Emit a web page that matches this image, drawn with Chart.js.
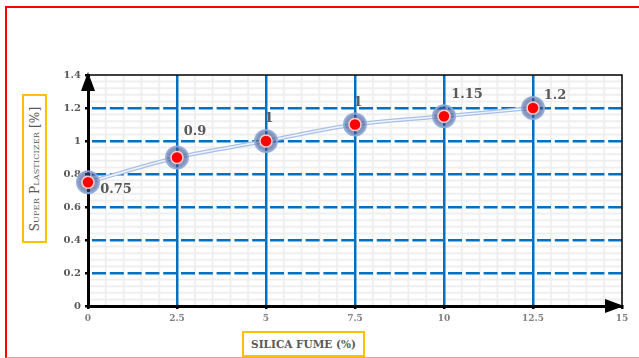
<!DOCTYPE html>
<html>
<head>
<meta charset="utf-8">
<script src="https://cdn.jsdelivr.net/npm/chart.js@4/dist/chart.umd.min.js"></script>
<style>
  body { margin: 0; background: #fff; }
  #wrap { position: relative; width: 639px; height: 358px; overflow: hidden; }
  #frame { position: absolute; left: 5px; top: 6px; width: 700px; height: 349px;
           border-left: 2px solid #ff0000; border-top: 2px solid #ff0000; border-bottom: 1px solid #f39a9a; }
  .ttl { position: absolute; border: 2px solid #ffc000; background: #fff; color: #595959;
         font-family: "DejaVu Serif", serif; box-sizing: border-box; text-align: center; }
  #ytitle { left: 22px; top: 94px; width: 25px; height: 149px; }
  #ytitle span { position: absolute; left: 50%; top: 50%; white-space: nowrap;
                 transform: translate(-50%, -50%) rotate(-90deg);
                 font-variant: small-caps; font-size: 12px; letter-spacing: 0.2px; }
  #xtitle { left: 242px; top: 331px; width: 123px; height: 26px; line-height: 22px;
            font-size: 10.5px; font-weight: bold; }
</style>
</head>
<body>
<div id="wrap">
  <div id="frame"></div>
  <canvas id="myChart" width="639" height="358"></canvas>
  <div class="ttl" id="ytitle"><span>Super Plasticizer [%]</span></div>
  <div class="ttl" id="xtitle">SILICA FUME (%)</div>
</div>
<script>
// data
var silicaFume = [0, 2.5, 5, 7.5, 10, 12.5];
var plasticizer = [0.75, 0.9, 1, 1.1, 1.15, 1.2];
var pointLabels = ["0.75", "0.9", "1", "1", "1.15", "1.2"];

// where each data label sits relative to its point
var labelShift = [[28, 7], [18, -26], [3, -22], [3, -22], [23, -22], [22, -12]];

var pts = silicaFume.map(function(x, i) { return { x: x, y: plasticizer[i] }; });

var blue = '#0070c0';

var minorGrid = {
  id: 'minorGrid',
  beforeDraw: function(chart) {
    var ctx = chart.ctx, a = chart.chartArea;
    var xs = chart.scales.x, ys = chart.scales.y;
    ctx.save();
    ctx.strokeStyle = '#efefef';
    ctx.lineWidth = 2;
    for (var v = 0.04; v < 1.4; v += 0.04) {
      if (Math.abs(v / 0.2 - Math.round(v / 0.2)) < 0.01) continue;
      var py = ys.getPixelForValue(v);
      ctx.beginPath(); ctx.moveTo(a.left, py); ctx.lineTo(a.right, py); ctx.stroke();
    }
    for (var u = 0.5; u < 15; u += 0.5) {
      if (Math.abs(u / 2.5 - Math.round(u / 2.5)) < 0.01) continue;
      var px = xs.getPixelForValue(u);
      ctx.beginPath(); ctx.moveTo(px, a.top); ctx.lineTo(px, a.bottom); ctx.stroke();
    }
    ctx.restore();
  }
};

var frameAndLabels = {
  id: 'frameAndLabels',
  afterDraw: function(chart) {
    var ctx = chart.ctx, a = chart.chartArea;
    ctx.save();
    // thin top/right border
    ctx.strokeStyle = '#000';
    ctx.lineWidth = 1.5;
    ctx.beginPath();
    ctx.moveTo(a.left, a.top); ctx.lineTo(a.right, a.top); ctx.lineTo(a.right, a.bottom);
    ctx.stroke();
    // arrows
    ctx.fillStyle = '#000';
    ctx.beginPath();
    ctx.moveTo(a.left, a.top - 3); ctx.lineTo(a.left - 7, a.top + 16); ctx.lineTo(a.left + 7, a.top + 16);
    ctx.closePath(); ctx.fill();
    ctx.beginPath();
    ctx.moveTo(a.right + 2, a.bottom); ctx.lineTo(a.right - 17, a.bottom - 7); ctx.lineTo(a.right - 17, a.bottom + 7);
    ctx.closePath(); ctx.fill();
    // data labels
    var meta = chart.getDatasetMeta(3);
    ctx.font = 'bold 13px "DejaVu Serif"';
    ctx.fillStyle = '#595959';
    ctx.textAlign = 'center';
    ctx.textBaseline = 'middle';
    meta.data.forEach(function(el, i) {
      ctx.fillText(pointLabels[i], el.x + labelShift[i][0], el.y + labelShift[i][1]);
    });
    ctx.restore();
  }
};

function plain(v) { return String(Number(v.toFixed(2))); }

var ctx = document.getElementById('myChart').getContext('2d');
var chart = new Chart(ctx, {
  type: 'scatter',
  plugins: [minorGrid, frameAndLabels],
  data: {
    datasets: [
      { data: pts, showLine: true, borderColor: '#a9bfe6', borderWidth: 4, pointRadius: 0,
        cubicInterpolationMode: 'monotone', order: 4 },
      { data: pts, showLine: true, borderColor: '#f0f4fb', borderWidth: 1.5, pointRadius: 0,
        cubicInterpolationMode: 'monotone', order: 3 },
      { data: pts, pointRadius: 11, backgroundColor: 'rgba(60,80,135,0.6)',
        borderColor: 'rgba(143,170,220,0.9)', borderWidth: 2, order: 2, clip: false },
      { data: pts, pointRadius: 6, backgroundColor: '#ff0000',
        borderColor: 'rgba(255,220,230,0.9)', borderWidth: 1.5, order: 1, clip: false }
    ]
  },
  options: {
    responsive: false,
    animation: false,
    events: [],
    layout: { padding: { top: 75, right: 17, left: 0, bottom: 0 } },
    plugins: { legend: { display: false }, tooltip: { enabled: false } },
    scales: {
      x: {
        min: 0, max: 15,
        afterFit: function(s) { s.height = 52; },
        ticks: { stepSize: 2.5, color: '#7f7f7f', padding: 4, callback: plain,
                 font: { family: 'DejaVu Serif', size: 9, weight: 'bold' } },
        grid: {
          color: function(c) { return (c.tick.value === 0 || c.tick.value === 15) ? 'rgba(0,0,0,0)' : blue; },
          lineWidth: 2.5, tickLength: 3, tickColor: '#000', drawTicks: true
        },
        border: { display: true, color: '#000', width: 3 }
      },
      y: {
        min: 0, max: 1.4,
        afterFit: function(s) { s.width = 88; },
        ticks: { stepSize: 0.2, color: '#595959', padding: 4, callback: plain,
                 font: { family: 'DejaVu Serif', size: 10, weight: 'bold' } },
        grid: {
          color: function(c) { return (c.tick.value === 0 || Math.abs(c.tick.value - 1.4) < 0.001) ? 'rgba(0,0,0,0)' : blue; },
          lineWidth: 2.5, tickLength: 3, tickColor: '#000', drawTicks: true
        },
        border: { display: true, color: '#000', width: 3, dash: [14, 3.8], dashOffset: -2 }
      }
    }
  }
});
</script>
</body>
</html>
